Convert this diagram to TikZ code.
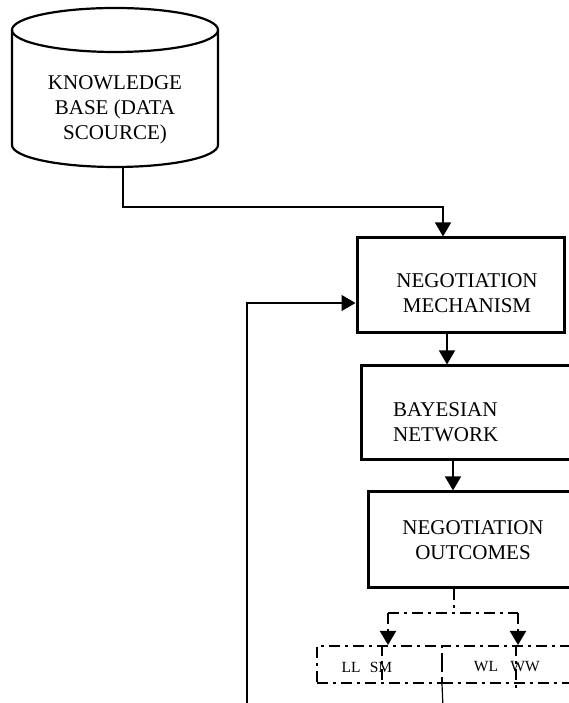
\documentclass[tikz,border=0pt]{standalone}
\usepackage{fontspec}
\setmainfont{Liberation Serif}
\usetikzlibrary{arrows.meta,calc}
\tikzset{
  box/.style={draw, rectangle, line width=3pt, inner sep=0pt},
  txt/.style={font=\fontsize{21}{25}\selectfont, align=center, inner sep=0pt},
  small/.style={font=\fontsize{15.5}{18}\selectfont, inner sep=0pt},
  conn/.style={line width=1.2pt},
  arr/.style={-{Triangle[length=14pt,width=16pt]}},
  dd/.style={line width=2pt, dash pattern=on 11pt off 5pt on 3pt off 5pt},
  ddbox/.style={draw, rectangle, dd, inner sep=0pt},
}
\begin{document}
\begin{tikzpicture}[x=1pt,y=1pt]
\useasboundingbox (0,0) rectangle (569,703);
\clip (0,0) rectangle (569,703);
\fill[white] (0,0) rectangle (569,703);
% cylinder
\draw[line width=2.2pt] (12,673) -- (12,558) arc[start angle=180,end angle=360,x radius=103,y radius=22] -- (218,673);
\draw[line width=2.2pt] (115,673) ellipse[x radius=103,y radius=22];
\node[txt] (kb) at (115,593) {KNOWLEDGE\\BASE (DATA\\SCOURCE)};
\coordinate (kbout) at (123,536);
% boxes
\node[box, minimum width=207pt, minimum height=95pt] (nm) at (460.5,417.5) {};
\node[txt] (nmt) at (467,410) {NEGOTIATION\\MECHANISM};
\node[box, minimum width=259pt, minimum height=94pt] (bn) at (490.5,290) {};
\node[txt, align=left, anchor=west] (bnt) at (393,281) {BAYESIAN\\NETWORK};
\node[box, minimum width=252pt, minimum height=96pt] (oc) at (494,163) {};
\node[txt] (oct) at (473,163) {NEGOTIATION\\OUTCOMES};
% connectors
\draw[conn,arr] (kbout) -- (123,496) -| ([xshift=-17.5pt]nm.north);
\coordinate (fb) at (247,-5);
\draw[conn,arr] (fb) |- ([yshift=-17.5pt]nm.west);
\draw[conn,arr] ([xshift=-13.5pt]nm.south) -- ([xshift=-13.5pt]nm.south |- bn.north);
\draw[conn,arr] ([xshift=-37.5pt]bn.south) -- ([xshift=-37.5pt]bn.south |- oc.north);
% dash-dot part
\node[ddbox, minimum width=125pt, minimum height=37pt] (b1) at (379.5,38.5) {};
\node[ddbox, minimum width=178pt, minimum height=37pt] (b2) at (531,38.5) {};
\draw[dd] ([xshift=2.5pt]b1.north) -- ([xshift=2.5pt]b1.south);
\draw[dd] ([xshift=-15pt]b2.north) -- ([xshift=-15pt,yshift=-4pt]b2.south);
\node[small] (ll) at (351,36) {LL};
\node[small] (sm) at (381,36) {SM};
\node[small] (wl) at (486,36) {WL};
\node[small] (ww) at (525,36) {WW};
\coordinate (sp) at (454,90);
\coordinate (sl) at (388,90);
\coordinate (sr) at (518,90);
\draw[dd] ([xshift=-40pt]oc.south) -- (sp);
\draw[dd] (sl) -- (sr);
\draw[dd,arr] (sl) -- (sl |- b1.north);
\draw[dd,arr] (sr) -- (sr |- b2.north);
\coordinate (fb2) at (443,-5);
\draw[conn] (b2.south west) ++(1pt,0) -- (fb2);
\end{tikzpicture}
\end{document}
